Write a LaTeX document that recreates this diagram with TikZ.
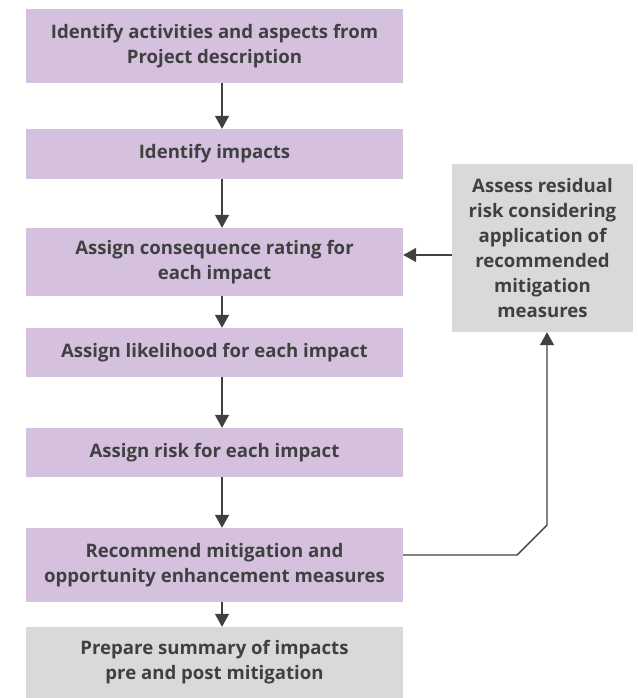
\documentclass[tikz,border=0pt]{standalone}
\usepackage{fontspec}
\setmainfont{Open Sans}
\usetikzlibrary{arrows.meta}
\definecolor{stepfill}{RGB}{213,193,222}
\definecolor{notefill}{RGB}{217,217,219}
\definecolor{ink}{RGB}{64,64,66}
\begin{document}
\begin{tikzpicture}[x=1pt,y=-1pt,
  stepbox/.style={fill=stepfill, minimum width=377pt, inner sep=0pt, align=center,
    text=ink, font=\fontsize{18.6}{25}\selectfont\bfseries},
  notebox/.style={stepbox, fill=notefill},
  link/.style={draw=ink, line width=1.4pt, -{Triangle[width=14pt,length=13pt]}}]
  \path[use as bounding box] (0,0) rectangle (637,698);
  \node[stepbox, minimum height=74pt] (b1) at (214.5,46) {Identify activities and aspects from\\Project description};
  \node[stepbox, minimum height=50pt] (b2) at (214.5,154) {Identify impacts};
  \node[stepbox, minimum height=68pt] (b3) at (214.5,262) {Assign consequence rating for\\each impact};
  \node[stepbox, minimum height=49pt] (b4) at (214.5,352.5) {Assign likelihood for each impact};
  \node[stepbox, minimum height=49pt] (b5) at (214.5,452.5) {Assign risk for each impact};
  \node[stepbox, minimum height=74pt] (b6) at (214.5,565) {Recommend mitigation and\\opportunity enhancement measures};
  \node[notebox, minimum height=71pt] (b7) at (214.5,662.5) {Prepare summary of impacts\\pre and post mitigation};
  \node[notebox, minimum width=181pt, minimum height=168pt] (res) at (542.5,248)
    {Assess residual\\risk considering\\application of\\recommended\\mitigation\\measures};
  % vertical spine of the main flow
  \coordinate (ax) at (222,0);
  \draw[link] (b1.south -| ax) -- (b2.north -| ax);
  \draw[link] (b2.south -| ax) -- (b3.north -| ax);
  \draw[link] (b3.south -| ax) -- (b4.north -| ax);
  \draw[link] (b4.south -| ax) -- (b5.north -| ax);
  \draw[link] (b5.south -| ax) -- (b6.north -| ax);
  \draw[link] (b6.south -| ax) -- (b7.north -| ax);
  % feedback loop through the residual risk check
  \coordinate (lx) at (0,255);
  \draw[link] (res.west |- lx) -- (b3.east |- lx);
  \coordinate (ly) at (0,555);
  \coordinate (bend1) at (517,555);
  \coordinate (bend2) at (547,525);
  \coordinate (up) at (547,0);
  \draw[link] (b6.east |- ly) -- (bend1) -- (bend2) -- (res.south -| up);
\end{tikzpicture}
\end{document}
